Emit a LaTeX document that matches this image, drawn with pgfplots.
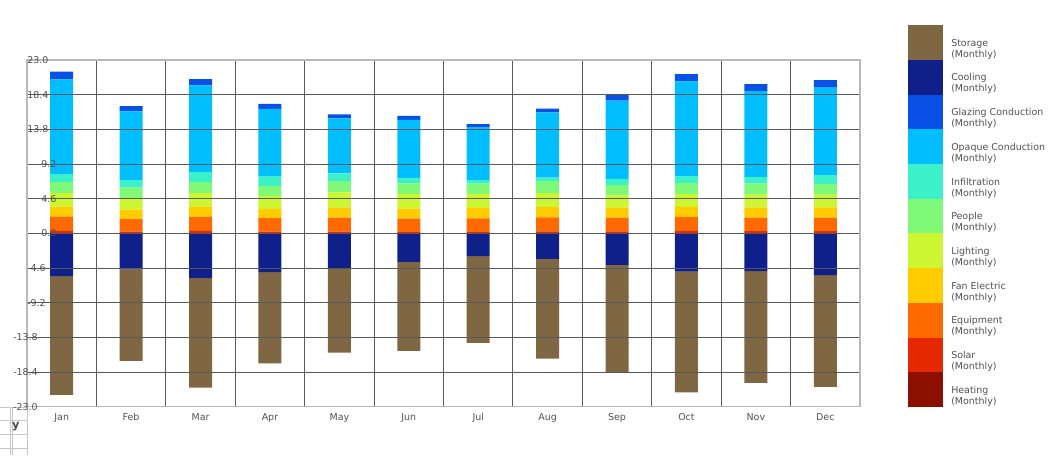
\documentclass[border=0pt]{standalone}
\usepackage{pgfplots}
\pgfplotsset{compat=1.18}
\usepackage{pgfplotstable}
\usepackage{fontspec}
\setmainfont{DejaVu Sans}

\definecolor{cStorage}{RGB}{127,103,67}
\definecolor{cCooling}{RGB}{16,32,138}
\definecolor{cGlazing}{RGB}{8,80,230}
\definecolor{cOpaque}{RGB}{0,190,255}
\definecolor{cInfil}{RGB}{60,240,200}
\definecolor{cPeople}{RGB}{128,248,120}
\definecolor{cLighting}{RGB}{204,245,50}
\definecolor{cFan}{RGB}{255,204,0}
\definecolor{cEquip}{RGB}{255,106,0}
\definecolor{cSolar}{RGB}{230,40,0}
\definecolor{cHeating}{RGB}{139,16,0}
\definecolor{txt}{RGB}{80,80,80}

% gains (stacked upwards)
\pgfplotstableread{
x heat solar equip fan light people infil opaque glazing
0 0 0.35 1.86 1.33 1.81 1.46 1.06 12.56 1.02
1 0 0.22 1.68 1.24 1.59 1.33 1.02 9.11 0.71
2 0 0.35 1.86 1.33 1.81 1.46 1.33 11.50 0.84
3 0 0.22 1.81 1.24 1.72 1.33 1.28 8.93 0.66
4 0 0.22 1.86 1.33 2.03 1.50 1.02 7.30 0.53
5 0 0.18 1.77 1.33 1.95 1.42 0.71 7.70 0.53
6 0 0.18 1.81 1.37 1.86 1.37 0.49 7.03 0.40
7 0 0.27 1.86 1.37 1.86 1.59 0.44 8.67 0.49
8 0 0.27 1.81 1.33 1.64 1.37 0.80 10.39 0.75
9 0 0.35 1.81 1.37 1.68 1.46 0.93 12.56 0.97
10 0 0.31 1.77 1.33 1.72 1.46 0.88 11.41 0.93
11 0 0.31 1.77 1.37 1.68 1.42 1.19 11.59 1.02
}\gains

% losses (stacked downwards)
\pgfplotstableread{
x cooling storage
0 -5.68 -15.73
1 -4.76 -12.16
2 -5.90 -14.58
3 -5.15 -12.11
4 -4.67 -11.15
5 -3.79 -11.81
6 -3.00 -11.54
7 -3.39 -13.22
8 -4.19 -14.19
9 -5.07 -16.04
10 -5.02 -14.80
11 -5.55 -14.80
}\losses

\newcommand{\yl}[2]{\hspace*{#1}#2}

\pgfplotsset{
  base/.style={scale only axis, width=624.75pt, height=260pt,
    at={(20.25pt,36.2pt)}, anchor=south west,
    xmin=-0.5, xmax=11.5, ymin=-23, ymax=23},
  bars/.style={base, hide axis, ybar stacked, bar width=17.25pt},
  sw/.style={fill=#1, draw=none,
    legend image code/.code={\fill[##1] (0pt,-8.11pt) rectangle (26.25pt,17.91pt);}},
}

\begin{document}
\begin{tikzpicture}
\path[use as bounding box] (0,0) rectangle (789.75pt,341.25pt);

% little artefact at bottom left
\draw[black!22, line width=0.75pt] (7.5pt,0) -- (7.5pt,36pt) (9pt,0) -- (9pt,36pt)
  (20.25pt,0) -- (20.25pt,36pt) (0,35.5pt) -- (20.25pt,35.5pt)
  (0,26.25pt) -- (20.25pt,26.25pt) (0,15.75pt) -- (20.25pt,15.75pt)
  (0,5.25pt) -- (20.25pt,5.25pt);
\node[font=\bfseries\fontsize{8.5}{9}\selectfont, text=black!70, inner sep=0pt] at (11.8pt,21pt) {y};

% losses
\begin{axis}[bars]
\addplot[fill=cCooling, draw=none] table[x=x, y=cooling] {\losses};
\addplot[fill=cStorage, draw=none] table[x=x, y=storage] {\losses};
\end{axis}

% gains and legend
\begin{axis}[bars,
  legend cell align=left,
  legend style={at={(1.0576,1.1010)}, anchor=north west, draw=none, fill=none,
    inner sep=0pt, row sep=0pt,
    nodes={align=left, inner xsep=6pt, inner ysep=0pt,
      font=\fontsize{7.1}{8.25}\selectfont, text=txt}},
]
\addplot[forget plot, fill=cHeating, draw=none] table[x=x, y=heat] {\gains};
\addplot[forget plot, fill=cSolar, draw=none] table[x=x, y=solar] {\gains};
\addplot[forget plot, fill=cEquip, draw=none] table[x=x, y=equip] {\gains};
\addplot[forget plot, fill=cFan, draw=none] table[x=x, y=fan] {\gains};
\addplot[forget plot, fill=cLighting, draw=none] table[x=x, y=light] {\gains};
\addplot[forget plot, fill=cPeople, draw=none] table[x=x, y=people] {\gains};
\addplot[forget plot, fill=cInfil, draw=none] table[x=x, y=infil] {\gains};
\addplot[forget plot, fill=cOpaque, draw=none] table[x=x, y=opaque] {\gains};
\addplot[forget plot, fill=cGlazing, draw=none] table[x=x, y=glazing] {\gains};

\addlegendimage{sw=cStorage}\addlegendentry{Storage\\(Monthly)}
\addlegendimage{sw=cCooling}\addlegendentry{Cooling\\(Monthly)}
\addlegendimage{sw=cGlazing}\addlegendentry{Glazing Conduction\\(Monthly)}
\addlegendimage{sw=cOpaque}\addlegendentry{Opaque Conduction\\(Monthly)}
\addlegendimage{sw=cInfil}\addlegendentry{Infiltration\\(Monthly)}
\addlegendimage{sw=cPeople}\addlegendentry{People\\(Monthly)}
\addlegendimage{sw=cLighting}\addlegendentry{Lighting\\(Monthly)}
\addlegendimage{sw=cFan}\addlegendentry{Fan Electric\\(Monthly)}
\addlegendimage{sw=cEquip}\addlegendentry{Equipment\\(Monthly)}
\addlegendimage{sw=cSolar}\addlegendentry{Solar\\(Monthly)}
\addlegendimage{sw=cHeating}\addlegendentry{Heating\\(Monthly)}
\end{axis}

% grid, frame and tick labels over the bars
\begin{axis}[base,
  xtick={0,...,11},
  xticklabels={Jan,Feb,Mar,Apr,May,Jun,Jul,Aug,Sep,Oct,Nov,Dec},
  ytick={-23,-18.4,-13.8,-9.2,-4.6,0,4.6,9.2,13.8,18.4,23},
  yticklabels={\yl{-10.5pt}{-23.0},\yl{-10.5pt}{-18.4},\yl{-10.5pt}{-13.8},
    \yl{0pt}{-9.2},\yl{0pt}{-4.6},\yl{10.5pt}{0.0},\yl{10.5pt}{4.6},\yl{10.5pt}{9.2},
    \yl{0pt}{13.8},\yl{0pt}{18.4},\yl{0pt}{23.0}},
  minor xtick={0.5,1.5,...,10.5},
  xminorgrids, ymajorgrids,
  grid style={black!65, line width=0.75pt},
  minor grid style={black!65, line width=0.75pt},
  major tick length=0pt, minor tick length=0pt,
  axis line style={gray!55, line width=1pt},
  tick label style={font=\fontsize{7.1}{8.5}\selectfont, text=txt},
  yticklabel style={anchor=west, inner sep=0pt},
  xticklabel style={anchor=north, inner sep=0pt, yshift=-5pt},
]
\end{axis}
\end{tikzpicture}
\end{document}
